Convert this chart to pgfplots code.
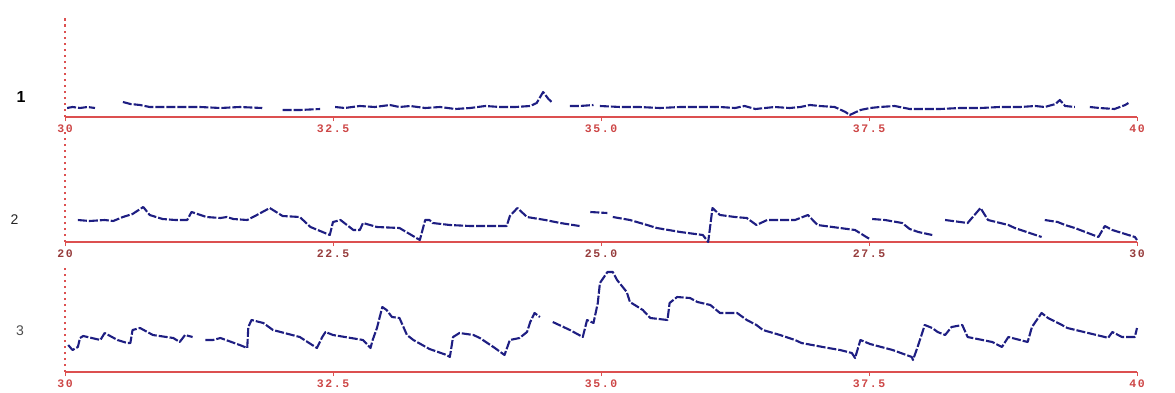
\documentclass[border=0pt]{standalone}
\usepackage{pgfplots}
\pgfplotsset{compat=1.18}
\usepackage{fontspec}
\setmainfont{Liberation Sans}
\newfontfamily\tickfont[LetterSpace=14]{Liberation Mono}
\definecolor{ecg}{RGB}{30,30,130}
\definecolor{axred}{RGB}{220,80,80}
\definecolor{lblred}{RGB}{205,70,70}
\definecolor{lbldark}{RGB}{150,60,60}

\pgfplotsset{
 trace/.style={draw=ecg, line width=2.1pt, dash pattern=on 9pt off 2pt, line join=round, mark=none},
 ecgpanel/.style={
  scale only axis, width=1072pt,
  axis x line=bottom, axis y line=left,
  x axis line style={-, axred, line width=1.7pt},
  y axis line style={-, draw=axred, line width=1.3pt, dash pattern=on 2.5pt off 3.5pt},
  ytick=\empty, ymin=0,
  tick align=outside, major tick length=4pt,
  xtick style={axred, line width=0.9pt},
  xticklabel style={font=\tickfont\bfseries\fontsize{11.5}{12}\selectfont, text=lblred, yshift=0pt},
  clip=false, unbounded coords=jump,
 }
}

\begin{document}
\begin{tikzpicture}
\useasboundingbox (0,0) rectangle (1175pt,392pt);

% ---------- panel 1 ----------
\begin{axis}[ecgpanel, at={(65pt,275pt)}, anchor=south west, height=99pt, ymax=99,
  xmin=30, xmax=40, xtick={30,32.5,35,37.5,40}, xticklabels={30,32.5,35.0,37.5,40}]
\addplot[trace] coordinates {
(30.02,9) (30.07,10) (30.14,9) (30.21,10) (30.28,9) (30.40,nan)
(30.54,15) (30.61,13) (30.70,12) (30.79,10) (30.89,10) (31.07,10) (31.26,10) (31.45,9) (31.63,10) (31.84,9) (31.95,nan)
(32.03,7) (32.19,7) (32.38,8) (32.45,nan)
(32.52,10) (32.61,9) (32.75,11) (32.89,10) (33.03,12) (33.12,10) (33.22,11) (33.36,9) (33.50,10) (33.64,8) (33.78,9) (33.92,11) (34.06,10) (34.20,10) (34.34,11) (34.40,14) (34.46,25) (34.51,18) (34.55,14) (34.62,nan)
(34.71,11) (34.80,11) (34.93,12) (34.96,nan)
(34.99,11) (35.18,10) (35.36,10) (35.55,9) (35.74,10) (35.92,10) (36.11,10) (36.25,9) (36.34,11) (36.44,8) (36.53,9) (36.62,10) (36.76,9) (36.86,10) (36.95,12) (37.04,11) (37.18,10) (37.28,5) (37.32,2) (37.42,7) (37.51,9) (37.60,10) (37.74,11) (37.88,8) (38.02,8) (38.16,8) (38.35,9) (38.54,9) (38.72,10) (38.91,10) (39.05,11) (39.14,10) (39.24,13) (39.28,17) (39.33,11) (39.42,10) (39.50,nan)
(39.56,10) (39.65,9) (39.79,8) (39.89,12) (39.92,14)
};
\node[font=\bfseries\fontsize{16}{16}\selectfont, text=black] at (axis cs:29.59,20) {1};
\end{axis}

% ---------- panel 2 ----------
\begin{axis}[ecgpanel, at={(65pt,150pt)}, anchor=south west, height=110pt, ymax=110,
  xmin=20, xmax=30, xtick={20,22.5,25,27.5,30}, xticklabels={20,22.5,25.0,27.5,30},
  xticklabel style={text=lbldark}]
\addplot[trace] coordinates {
(20.12,22) (20.23,21) (20.37,22) (20.45,21) (20.54,25) (20.63,28) (20.73,35) (20.79,27) (20.91,23) (21.03,22) (21.14,22) (21.18,30) (21.32,25) (21.45,24) (21.51,25) (21.57,23) (21.70,22) (21.79,27) (21.91,34) (22.03,26) (22.19,25) (22.29,15) (22.47,7) (22.50,20) (22.57,22) (22.69,12) (22.75,12) (22.78,19) (22.91,15) (23.12,14) (23.31,2) (23.36,22) (23.40,22) (23.43,19) (23.59,17) (23.78,16) (23.96,16) (24.12,16) (24.15,26) (24.22,34) (24.31,25) (24.48,22) (24.62,19) (24.80,16) (24.83,nan)
(24.87,15) (24.88,nan)
(24.90,30) (25.06,29) (25.08,nan)
(25.11,25) (25.27,22) (25.43,17) (25.52,14) (25.74,10) (25.95,7) (26.00,0) (26.04,34) (26.11,27) (26.25,25) (26.36,24) (26.45,17) (26.55,22) (26.67,22) (26.81,22) (26.93,27) (27.02,17) (27.23,14) (27.37,12) (27.49,4) (27.51,3) (27.52,nan)
(27.53,23) (27.65,22) (27.81,19) (27.88,13) (27.96,10) (28.09,7) (28.10,nan)
(28.12,24) (28.15,nan)
(28.21,22) (28.42,19) (28.54,34) (28.61,22) (28.80,17) (28.86,14) (29.11,5) (29.12,nan)
(29.14,22) (29.26,20) (29.33,17) (29.42,14) (29.64,5) (29.70,16) (29.77,12) (29.98,5) (30.00,2)
};
\node[font=\fontsize{14}{14}\selectfont, text=black!85] at (axis cs:19.53,22) {2};
\end{axis}

% ---------- panel 3 ----------
\begin{axis}[ecgpanel, at={(65pt,20pt)}, anchor=south west, height=107pt, ymax=107,
  xmin=30, xmax=40, xtick={30,32.5,35,37.5,40}, xticklabels={30,32.5,35.0,37.5,40}]
\addplot[trace] coordinates {
(30.03,27) (30.07,22) (30.12,25) (30.14,34) (30.17,36) (30.25,34) (30.33,32) (30.37,39) (30.49,32) (30.58,29) (30.61,29) (30.63,42) (30.70,44) (30.82,37) (31.01,34) (31.07,30) (31.12,37) (31.19,35) (31.25,nan)
(31.31,32) (31.38,32) (31.45,34) (31.63,27) (31.70,24) (31.71,45) (31.74,52) (31.85,49) (31.94,42) (32.19,35) (32.35,24) (32.40,35) (32.43,40) (32.50,37) (32.78,32) (32.85,24) (32.87,32) (32.91,44) (32.96,65) (33.00,62) (33.05,55) (33.12,54) (33.19,37) (33.25,32) (33.40,23) (33.56,17) (33.59,15) (33.62,35) (33.68,39) (33.81,37) (33.87,34) (34.01,24) (34.10,17) (34.15,32) (34.24,34) (34.31,40) (34.34,50) (34.38,59) (34.43,55) (34.49,nan)
(34.55,50) (34.71,42) (34.83,35) (34.87,52) (34.93,49) (34.97,69) (34.99,89) (35.06,100) (35.11,100) (35.15,92) (35.24,80) (35.27,70) (35.39,62) (35.46,54) (35.62,52) (35.64,69) (35.71,75) (35.83,74) (35.90,70) (36.02,67) (36.11,59) (36.27,59) (36.36,52) (36.45,47) (36.51,42) (36.67,37) (36.81,32) (36.87,29) (37.12,24) (37.23,22) (37.34,19) (37.37,14) (37.42,32) (37.51,28) (37.65,24) (37.72,22) (37.90,15) (37.91,12) (37.95,24) (37.99,37) (38.02,47) (38.09,44) (38.14,40) (38.21,37) (38.27,45) (38.37,47) (38.42,35) (38.65,30) (38.74,25) (38.80,35) (38.98,30) (39.02,45) (39.11,59) (39.17,54) (39.30,47) (39.35,44) (39.70,35) (39.73,34) (39.77,40) (39.86,35) (39.98,35) (40.00,44)
};
\node[font=\fontsize{14}{14}\selectfont, text=black!70] at (axis cs:29.58,41) {3};
\end{axis}
\end{tikzpicture}
\end{document}
